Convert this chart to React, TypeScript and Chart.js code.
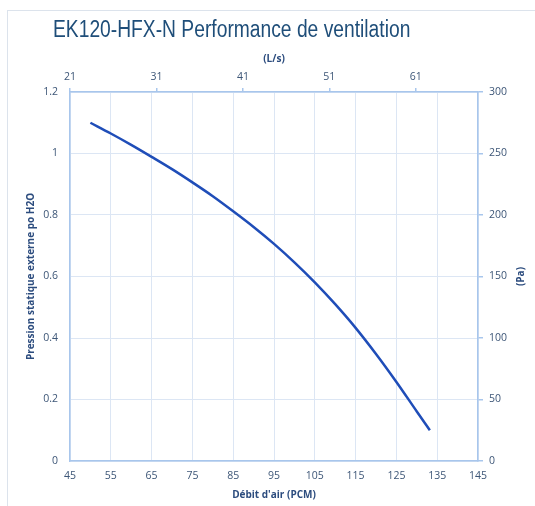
import { useEffect, useRef } from 'react';
import { Chart, registerables } from 'chart.js';
Chart.register(...registerables);

const TITLE = 'EK120-HFX-N Performance de ventilation';
const cfm = [50, 55, 60, 65, 70, 75, 80, 85, 90, 95, 100, 105, 110, 115, 120, 125, 130, 133.2];
const inH2O = [1.1, 1.065, 1.028, 0.989, 0.949, 0.906, 0.861, 0.812, 0.761, 0.706, 0.646, 0.581, 0.51, 0.433, 0.348, 0.257, 0.161, 0.1];
const cfmTicks = [45, 55, 65, 75, 85, 95, 105, 115, 125, 135, 145];
const inH2OTicks = [0, 0.2, 0.4, 0.6, 0.8, 1, 1.2];
const lsTicks = [21, 31, 41, 51, 61];
const paTicks = [0, 50, 100, 150, 200, 250, 300];

const TICK_COLOR = '#3D5677';
const AXIS_TITLE_COLOR = '#2C4C7E';
const GRID = '#DCE6F4';
const AXIS = '#A8C6EC';
const LINE = '#1F4DB8';
const tickFont = { family: '"Open Sans", sans-serif', size: 10.5 };
const titleFont = { family: '"Open Sans", sans-serif', size: 10, weight: 'bold' as const };

const textPlugin = {
  id: 'extraText',
  afterDraw(chart: any) {
    const { ctx, chartArea } = chart;
    ctx.save();
    ctx.fillStyle = '#1F4E79';
    ctx.font = '22px "Liberation Sans", sans-serif';
    ctx.textAlign = 'left';
    ctx.textBaseline = 'alphabetic';
    ctx.translate(53, 37);
    ctx.scale(0.875, 1.05);
    ctx.fillText(TITLE, 0, 0);
    ctx.restore();
    ctx.save();
    ctx.translate(chartArea.right + 43, (chartArea.top + chartArea.bottom) / 2);
    ctx.rotate(-Math.PI / 2);
    ctx.textAlign = 'center';
    ctx.textBaseline = 'middle';
    ctx.fillStyle = AXIS_TITLE_COLOR;
    ctx.font = 'bold 10px "Open Sans", sans-serif';
    ctx.fillText('(Pa)', 0, 0);
    ctx.restore();
  },
};

export default function App() {
  const ref = useRef<HTMLCanvasElement>(null);
  useEffect(() => {
    if (!ref.current) return;
    const chart = new Chart(ref.current, {
      type: 'line',
      data: {
        datasets: [
          {
            data: cfm.map((x, i) => ({ x, y: inH2O[i] })),
            borderColor: LINE,
            borderWidth: 2.5,
            pointRadius: 0,
            cubicInterpolationMode: 'monotone',
            fill: false,
            xAxisID: 'x',
            yAxisID: 'y',
          },
        ],
      },
      options: {
        animation: false,
        responsive: false,
        layout: { padding: 0 },
        plugins: { legend: { display: false }, tooltip: { enabled: false }, title: { display: false } },
        scales: {
          x: {
            type: 'linear',
            position: 'bottom',
            min: 45,
            max: 145,
            afterBuildTicks: (s: any) => { s.ticks = cfmTicks.map((v) => ({ value: v })); },
            afterFit: (s: any) => { s.height = 45; },
            ticks: { color: TICK_COLOR, font: tickFont, padding: 9, maxRotation: 0, autoSkip: false },
            grid: { color: GRID, drawTicks: false },
            border: { color: AXIS, width: 1.5 },
            title: { display: true, text: "Débit d'air (PCM)", color: AXIS_TITLE_COLOR, font: titleFont, padding: { top: 0, bottom: 5 } },
          },
          x2: {
            type: 'linear',
            position: 'top',
            min: 21,
            max: 68.2,
            afterBuildTicks: (s: any) => { s.ticks = lsTicks.map((v) => ({ value: v })); },
            afterFit: (s: any) => { s.height = 92; },
            ticks: { color: TICK_COLOR, font: tickFont, padding: 5, maxRotation: 0, autoSkip: false },
            grid: { drawOnChartArea: false, color: AXIS, tickLength: 4, lineWidth: 1.5 },
            border: { color: AXIS, width: 1.5 },
            title: { display: true, text: '(L/s)', color: AXIS_TITLE_COLOR, font: titleFont, padding: { top: 53, bottom: 0 } },
          },
          y: {
            type: 'linear',
            position: 'left',
            min: 0,
            max: 1.2,
            afterBuildTicks: (s: any) => { s.ticks = inH2OTicks.map((v) => ({ value: v })); },
            afterFit: (s: any) => { s.width = 70; },
            ticks: { color: TICK_COLOR, font: tickFont, padding: 12, callback: (v: any) => String(v) },
            grid: { color: GRID, drawTicks: false },
            border: { color: AXIS, width: 1.5 },
            title: { display: true, text: 'Pression statique externe po H2O', color: AXIS_TITLE_COLOR, font: titleFont, padding: { top: 25, bottom: 0 } },
          },
          y2: {
            type: 'linear',
            position: 'right',
            min: 0,
            max: 300,
            afterBuildTicks: (s: any) => { s.ticks = paTicks.map((v) => ({ value: v })); },
            afterFit: (s: any) => { s.width = 57; },
            ticks: { color: TICK_COLOR, font: tickFont, padding: 6 },
            grid: { drawOnChartArea: false, color: AXIS, tickLength: 5, lineWidth: 1.5 },
            border: { color: AXIS, width: 1.5 },
          },
        },
      },
      plugins: [textPlugin],
    } as any);
    return () => chart.destroy();
  }, []);

  return (
    <div style={{ position: 'fixed', left: 0, top: 0, width: 535, height: 506, background: '#fff', overflow: 'hidden' }}>
      <div style={{ position: 'absolute', left: 7, top: 10, width: 600, height: 600, border: '1px solid #DCE3EC' }} />
      <canvas ref={ref} width={535} height={506} style={{ position: 'absolute', left: 0, top: 0, width: 535, height: 506 }} />
    </div>
  );
}
